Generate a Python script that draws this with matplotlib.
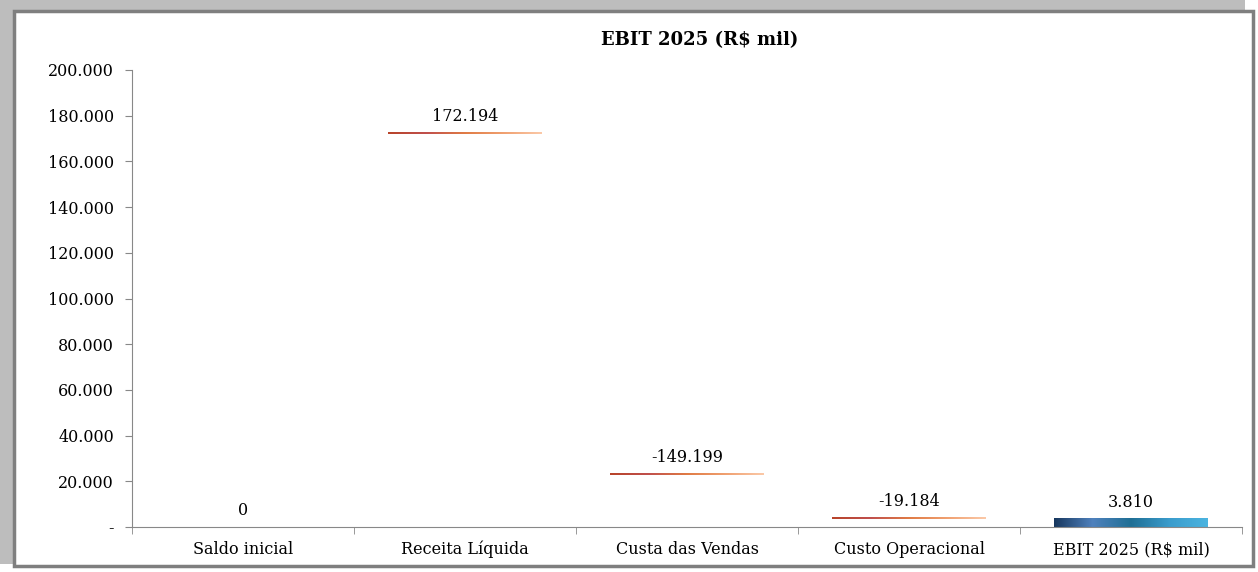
import numpy as np
import matplotlib.pyplot as plt
from matplotlib.colors import LinearSegmentedColormap
from matplotlib.patches import Rectangle

categories = ['Saldo inicial', 'Receita Líquida', 'Custa das Vendas', 'Custo Operacional', 'EBIT 2025 (R$ mil)']
values = [0, 172194, -149199, -19184, 3810]
labels = ['0', '172.194', '-149.199', '-19.184', '3.810']
yticks = [0, 20000, 40000, 60000, 80000, 100000, 120000, 140000, 160000, 180000, 200000]

plt.rcParams['font.family'] = ['DejaVu Serif']

fig = plt.figure(figsize=(12.58, 5.72), dpi=100)

# moldura com sombra (topo e esquerda)
fig.patches.append(Rectangle((0.0, 0.014), 0.99, 0.986, transform=fig.transFigure,
                             facecolor='#bdbdbd', edgecolor='none', zorder=0))
fig.patches.append(Rectangle((0.011, 0.01), 0.985, 0.97, transform=fig.transFigure,
                             facecolor='white', edgecolor='#7f7f7f', linewidth=2.5, zorder=1))

ax = fig.add_axes([132/1258, 1-527/572, 1110/1258, 457/572])
ax.set_zorder(5)
ax.set_facecolor('none')

orange = LinearSegmentedColormap.from_list('o', ['#b8442a', '#c0504d', '#e07b45', '#f0a070', '#fbc9a8'])
blue = LinearSegmentedColormap.from_list('b', ['#17375e', '#4f81bd', '#1f6f95', '#3a9ccc', '#4bb4e0'])

x = np.arange(len(categories))
w = 0.69
cum = np.cumsum(values)
grad = np.linspace(0, 1, 256).reshape(1, -1)
for i in range(len(categories)):
    if i == len(categories) - 1:
        bot, top, cm = 0, values[i], blue
    else:
        bot, top, cm = cum[i] - 350, cum[i] + 350, orange
    if i > 0:
        ax.imshow(grad, cmap=cm, extent=(x[i]-w/2, x[i]+w/2, bot, top), aspect='auto', zorder=2)
    ax.text(x[i], max(bot, top) + 3300, labels[i], ha='center', va='bottom', fontsize=11.5)

ax.set_xlim(-0.5, len(categories) - 0.5)
ax.set_ylim(0, 200000)
ax.set_yticks(yticks)
ax.set_yticklabels(['-'] + ['{:,}'.format(v).replace(',', '.') for v in yticks[1:]], fontsize=11.5)
ax.set_xticks(x)
ax.set_xticklabels(categories, fontsize=11.5)
ax.set_xticks(np.arange(-0.5, len(categories)), minor=True)
ax.tick_params(axis='x', which='major', length=0, pad=10)
ax.tick_params(axis='x', which='minor', length=5, color='#888888')
ax.tick_params(axis='y', length=5, color='#888888', pad=8)
for s in ['top', 'right']:
    ax.spines[s].set_visible(False)
ax.spines['left'].set_color('#888888')
ax.spines['bottom'].set_color('#888888')

fig.text(700/1258, 1-40/572, 'EBIT 2025 (R$ mil)', ha='center', va='center',
         fontsize=13, fontweight='bold')

fig.savefig('out.png', dpi=100)
